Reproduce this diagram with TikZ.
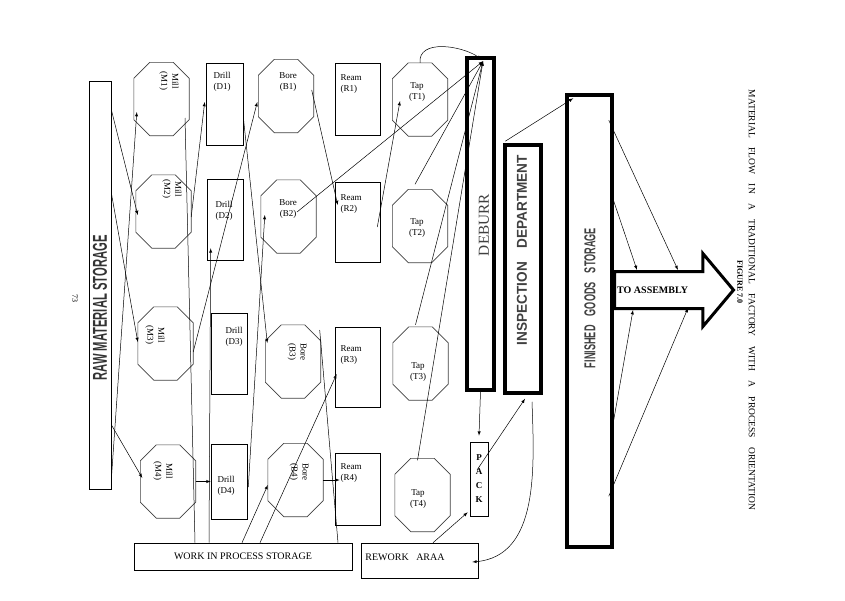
\documentclass[tikz,border=0pt]{standalone}
\usepackage{fontspec}
\setmainfont{Liberation Serif}
\setsansfont{Liberation Sans}
\usepackage{graphicx}
\usetikzlibrary{shapes.arrows,calc,positioning}

\newcommand{\bigletters}[3]{\resizebox{#1}{#2}{\sffamily\bfseries #3}}
% machine node with cut corners
\newcommand{\octagon}[3]{%
  \node[octa] (#1) at (#2,#3) {};
  \draw[octaline] ($(#1.north west)+(16,0)$) -- ($(#1.north east)+(-16,0)$)
    -- ($(#1.north east)+(0,16)$) -- ($(#1.south east)+(0,-16)$)
    -- ($(#1.south east)+(-16,0)$) -- ($(#1.south west)+(16,0)$)
    -- ($(#1.south west)+(0,-16)$) -- ($(#1.north west)+(0,16)$) -- cycle;}

\begin{document}
\begin{tikzpicture}[x=1pt,y=-1pt,
  octa/.style={rectangle, minimum width=55pt, minimum height=73pt, inner sep=0pt},
  octaline/.style={draw=black!75, line width=0.6pt, line join=miter},
  plainbox/.style={rectangle, draw, line width=0.6pt, inner sep=0pt},
  heavybox/.style={rectangle, draw, line width=3.5pt, inner sep=0pt},
  lbl/.style={font=\fontsize{9}{11}\selectfont, align=center, inner sep=0pt},
  flow/.style={-latex, line width=0.5pt},
  link/.style={line width=0.5pt}]
\useasboundingbox (0,0) rectangle (845,600);

% storage and machines
\node[plainbox, minimum width=22pt, minimum height=408pt] (RAW) at (100,285) {};
\node[rotate=90, text=black!80] (RAWt) at (100,308) {\bigletters{145pt}{14pt}{RAW MATERIAL STORAGE}};

\octagon{M1}{161.5}{99}
\octagon{M2}{163.5}{211.5}
\octagon{M3}{165.5}{343.5}
\octagon{M4}{168}{481.5}
\node[lbl, rotate=-90] (M1t) at (169,81) {Mill\\(M1)};
\node[lbl, rotate=-90] (M2t) at (172,189) {Mill\\(M2)};
\node[lbl, rotate=-90] (M3t) at (155,335) {Mill\\(M3)};
\node[lbl, rotate=-90] (M4t) at (163,471) {Mill\\(M4)};

\node[plainbox, minimum width=37pt, minimum height=82pt] (D1) at (224.5,104) {};
\node[plainbox, minimum width=36pt, minimum height=81pt] (D2) at (225,219.5) {};
\node[plainbox, minimum width=36pt, minimum height=81pt] (D3) at (229,353.5) {};
\node[plainbox, minimum width=36pt, minimum height=75pt] (D4) at (229,481.5) {};
\node[lbl] (D1t) at (222,82) {Drill\\(D1)};
\node[lbl] (D2t) at (224,211) {Drill\\(D2)};
\node[lbl] (D3t) at (234,337) {Drill\\(D3)};
\node[lbl] (D4t) at (226,486) {Drill\\(D4)};

\octagon{B1}{286}{96}
\octagon{B2}{288.5}{216.5}
\octagon{B3}{293}{361.5}
\octagon{B4}{295.5}{480}
\node[lbl] (B1t) at (288,82) {Bore\\(B1)};
\node[lbl] (B2t) at (288,209) {Bore\\(B2)};
\node[lbl, rotate=-90] (B3t) at (297,352) {Bore\\(B3)};
\node[lbl, rotate=-90] (B4t) at (299,472) {Bore\\(B4)};

\node[plainbox, minimum width=45pt, minimum height=72pt] (R1) at (357.5,99) {};
\node[plainbox, minimum width=45pt, minimum height=80pt] (R2) at (357.5,222) {};
\node[plainbox, minimum width=45pt, minimum height=80pt] (R3) at (357.5,367) {};
\node[plainbox, minimum width=45pt, minimum height=72pt] (R4) at (357.5,489) {};
\node[lbl, align=left] (R1t) at (351,84) {Ream\\(R1)};
\node[lbl, align=left] (R2t) at (351,204) {Ream\\(R2)};
\node[lbl, align=left] (R3t) at (351,355) {Ream\\(R3)};
\node[lbl, align=left] (R4t) at (351,473) {Ream\\(R4)};

\octagon{T1}{420}{99.5}
\octagon{T2}{420}{226}
\octagon{T3}{420.5}{363.5}
\octagon{T4}{422.5}{495}
\node[lbl] (T1t) at (417,92) {Tap\\(T1)};
\node[lbl] (T2t) at (417,228) {Tap\\(T2)};
\node[lbl] (T3t) at (418,372) {Tap\\(T3)};
\node[lbl] (T4t) at (418,499) {Tap\\(T4)};

% departments
\node[heavybox, minimum width=27pt, minimum height=332pt] (DEB) at (480.5,224) {};
\node[rotate=90, text=black!75] (DEBt) at (484,225) {\resizebox{62pt}{10pt}{DEBURR}};
\node[heavybox, minimum width=36pt, minimum height=248pt] (INSP) at (523,269) {};
\node[rotate=90, text=black!75] (INSPt) at (522,250) {\bigletters{190pt}{10pt}{INSPECTION\quad DEPARTMENT}};
\node[heavybox, minimum width=45pt, minimum height=452pt] (FIN) at (589.5,321) {};
\node[rotate=90, text=black!75] (FINt) at (590,298) {\bigletters{140pt}{11pt}{FINISHED\quad GOODS\quad STORAGE}};
\node[plainbox, minimum width=18pt, minimum height=74pt, font=\fontsize{9}{14}\selectfont\bfseries, align=center] (PACK) at (479,479) {P\\A\\C\\K};
\node[plainbox, minimum width=218pt, minimum height=27pt, font=\fontsize{10}{12}\selectfont] (WIP) at (243,556.5) {WORK IN PROCESS STORAGE};
\node[plainbox, minimum width=117pt, minimum height=35pt] (RWK) at (419.5,560.5) {};
\node[font=\fontsize{10}{12}\selectfont, inner sep=0pt] (RWKt) at (405,557) {REWORK\ \ \ ARAA};
\node[single arrow, draw, fill=white, line width=3pt, minimum height=119pt, single arrow head extend=18pt, single arrow tip angle=100, text height=7pt, text depth=0pt, inner ysep=13.5pt, inner xsep=3pt, anchor=tail] (ASM) at (613,290) {};
\node[anchor=west, inner sep=0pt, font=\fontsize{10}{12}\selectfont\bfseries] (ASMt) at (617,290) {TO ASSEMBLY};

% captions
\node[rotate=-90, font=\fontsize{8}{10}\selectfont] (PAGE) at (75,298) {73};
\node[rotate=-90, font=\fontsize{9.5}{11}\selectfont] (TITLE) at (752,300) {MATERIAL\quad FLOW\quad IN\quad A\quad TRADITIONAL\quad FACTORY\quad WITH\quad A\quad PROCESS\quad ORIENTATION};
\node[rotate=-90, font=\fontsize{8}{10}\selectfont\bfseries] (FIG) at (740,282) {FIGURE 7.0};

% material flow
\path [flow] ($(RAW.north east)+(0,29)$) edge ($(M2.west)+(2,3.5)$);
\path [flow] ($(RAW.north east)+(0,112)$) edge ($(M3.west)+(0,-1.5)$);
\path [flow] ($(RAW.north east)+(0,344)$) edge ($(M4.west)+(2,-3.5)$);
\path [flow] ($(RAW.north east)+(0,399)$) edge ($(M1.west)+(3,13)$);
\path [link] ($(M1.center)+(23.5,19)$) edge ($(WIP.north)+(-48,0)$);
\path [flow] ($(M2.east)+(0,5.5)$) edge ($(D1.west)+(-1,-2)$);
\path [flow] ($(M3.east)+(0,8.5)$) edge ($(B1.west)+(-1,6)$);
\path [flow] (M4.east) edge (D4.west);
\path [flow] ($(WIP.north)+(-34,0)$) edge ($(D2.south west)+(4,-12)$);
\path [flow] ($(D1.east)+(0,13)$) edge ($(B3.west)+(2,-18.5)$);
\path [flow] ($(D4.east)+(1,5.5)$) edge ($(B2.west)+(4,-1.5)$);
\path [flow] ($(WIP.north)+(-1,0)$) edge ($(B4.west)+(0,5)$);
\path [flow] ($(WIP.north)+(17,0)$) edge ($(R3.west)+(2,7)$);
\path [flow] ($(B1.east)+(-2,-6)$) edge ($(R2.west)+(3,-17)$);
\path [flow] ($(B2.center)+(8.5,-4.5)$) edge ($(DEB.north)+(2.5,5)$);
\path [link] ($(B3.east)+(-1,-31.5)$) edge ($(WIP.north)+(95,0)$);
\path [flow] (B4.east) edge ($(R4.west)+(5,-9)$);
\path [flow] ($(R2.east)+(-3,5)$) edge ($(T1.center)+(-20,1.5)$);
\path [flow] (T1.north) edge[out=95,in=145] ($(DEB.north)+(1,3)$);
\path [flow] ($(T2.north)+(-5,-5)$) edge ($(DEB.north)+(2.5,5)$);
\path [flow] ($(T3.north)+(-5,-2)$) edge ($(DEB.north)+(2.5,5)$);
\path [flow] ($(T4.north)+(-5,2)$) edge ($(DEB.north)+(2.5,5)$);
\path [flow] (DEB.south) edge ($(PACK.north)+(0,-6)$);
\path [flow] ($(RWK.north)+(13.5,0)$) edge ($(PACK.south west)+(-2,-4)$);
\path [flow] ($(PACK.center)+(-2,-9)$) edge ($(INSP.south)+(2,4)$);
\path [flow] ($(INSP.south)+(9,7)$) edge[out=-88,in=5] ($(RWK.east)+(-6,1.5)$);
\path [flow] ($(INSP.north west)+(2,-2)$) edge ($(FIN.north west)+(8,5)$);
\path [flow] ($(FIN.north east)+(-5,27)$) edge ($(ASM.tail)+(65,-20)$);
\path [flow] ($(FIN.north east)+(-2,102)$) edge ($(ASM.tail)+(24,-20)$);
\path [flow] ($(FIN.north east)+(-2,338)$) edge ($(ASM.tail)+(20,20)$);
\path [flow] ($(FIN.north east)+(-5,403)$) edge ($(ASM.tail)+(75,18)$);
\end{tikzpicture}
\end{document}
